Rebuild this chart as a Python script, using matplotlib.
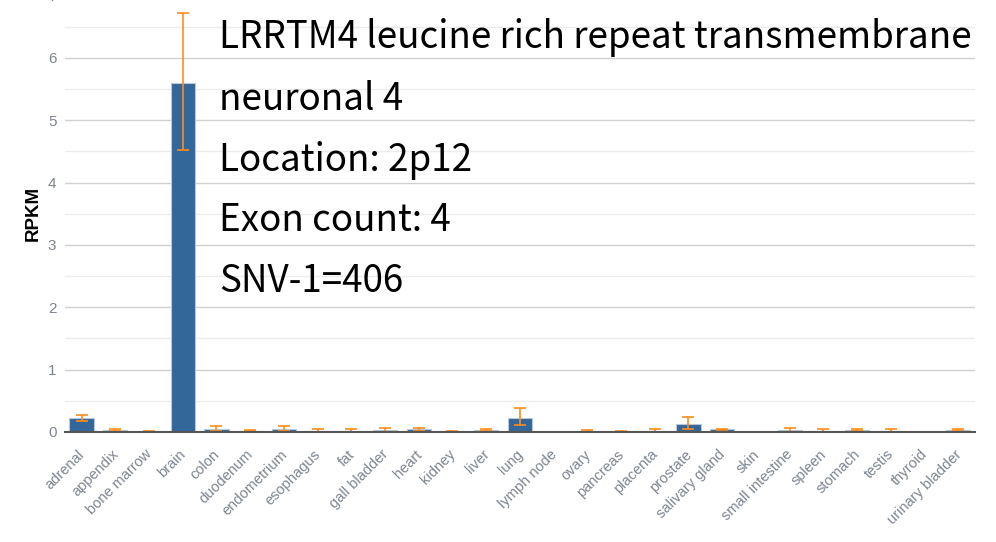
import matplotlib
matplotlib.use("Agg")
import matplotlib.pyplot as plt
import matplotlib.transforms as mtransforms
import numpy as np

tissues = ["adrenal", "appendix", "bone marrow", "brain", "colon", "duodenum",
           "endometrium", "esophagus", "fat", "gall bladder", "heart", "kidney",
           "liver", "lung", "lymph node", "ovary", "pancreas", "placenta",
           "prostate", "salivary gland", "skin", "small intestine", "spleen",
           "stomach", "testis", "thyroid", "urinary bladder"]
rpkm = [0.22, 0.03, 0.01, 5.60, 0.05, 0.02, 0.05, 0.02, 0.02, 0.03, 0.04, 0.01,
        0.03, 0.22, 0.002, 0.01, 0.005, 0.01, 0.13, 0.04, 0.003, 0.03, 0.02,
        0.03, 0.02, 0.002, 0.03]
err_low = [0.17, 0.02, 0.0, 4.52, 0.02, 0.01, 0.02, 0.0, 0.0, 0.0, 0.01, 0.0,
           0.02, 0.11, 0.0, 0.0, 0.0, 0.0, 0.04, 0.03, 0.0, 0.0, 0.0,
           0.01, 0.0, 0.0, 0.02]
err_high = [0.28, 0.04, 0.02, 6.72, 0.09, 0.03, 0.09, 0.05, 0.05, 0.06, 0.07, 0.02,
            0.04, 0.38, 0.005, 0.03, 0.01, 0.04, 0.245, 0.05, 0.006, 0.06, 0.04,
            0.05, 0.04, 0.004, 0.04]
info_lines = ["LRRTM4 leucine rich repeat transmembrane",
              "neuronal 4",
              "Location: 2p12",
              "Exon count: 4",
              "SNV-1=406"]

fig = plt.figure(figsize=(9.96, 5.42), dpi=100)
ax = fig.add_axes([0.065, 0.203, 0.914, 0.805])

x = np.arange(len(tissues))
vals = np.array(rpkm)
lo = vals - np.array(err_low)
hi = np.array(err_high) - vals
ax.bar(x, vals, width=0.72, color="#336699", edgecolor="#b8c8dc", linewidth=0.8, zorder=3)
ax.errorbar(x, vals, yerr=[lo, hi], fmt="none", ecolor="#ff8c1a", elinewidth=1.2,
            capsize=4.6, capthick=1.2, zorder=4)

ax.set_xlim(-0.5, len(tissues) - 0.5)
ax.set_ylim(0, 7)
ax.set_yticks(range(0, 8))
ax.set_yticks(np.arange(0.5, 7, 1.0), minor=True)
ax.grid(axis="y", which="major", color="#d0d0d0", linewidth=1.0, zorder=0)
ax.grid(axis="y", which="minor", color="#ececec", linewidth=1.0, zorder=0)
ax.tick_params(axis="y", which="both", length=0, labelsize=11, labelcolor="#7d8590", pad=6)
for lab in ax.get_yticklabels():
    lab.set_family("Liberation Sans")
ax.tick_params(axis="x", length=0, pad=11)
ax.set_xticks(x)
ax.set_xticklabels(tissues, rotation=45, ha="right", rotation_mode="anchor",
                   fontsize=10.5, color="#7d8590", family="Liberation Sans")
offset = mtransforms.ScaledTranslation(-4 / 100, 0, fig.dpi_scale_trans)
for lab in ax.get_xticklabels():
    lab.set_transform(lab.get_transform() + offset)
for s in ["top", "right", "left"]:
    ax.spines[s].set_visible(False)
ax.spines["bottom"].set_color("#555555")
ax.spines["bottom"].set_linewidth(1.5)
ax.spines["bottom"].set_zorder(5)
ax.set_ylabel("RPKM", fontsize=13.5, fontweight="bold", family="Liberation Sans")
ax.yaxis.set_label_coords(-0.025, 0.5)

for i, line in enumerate(info_lines):
    fig.text(219 / 996, 1 - (38 + 61 * i) / 542, line, fontsize=26.5,
             family=["Noto Sans CJK JP", "DejaVu Sans"], va="center", ha="left", color="black")

fig.savefig("out.png", dpi=100)
